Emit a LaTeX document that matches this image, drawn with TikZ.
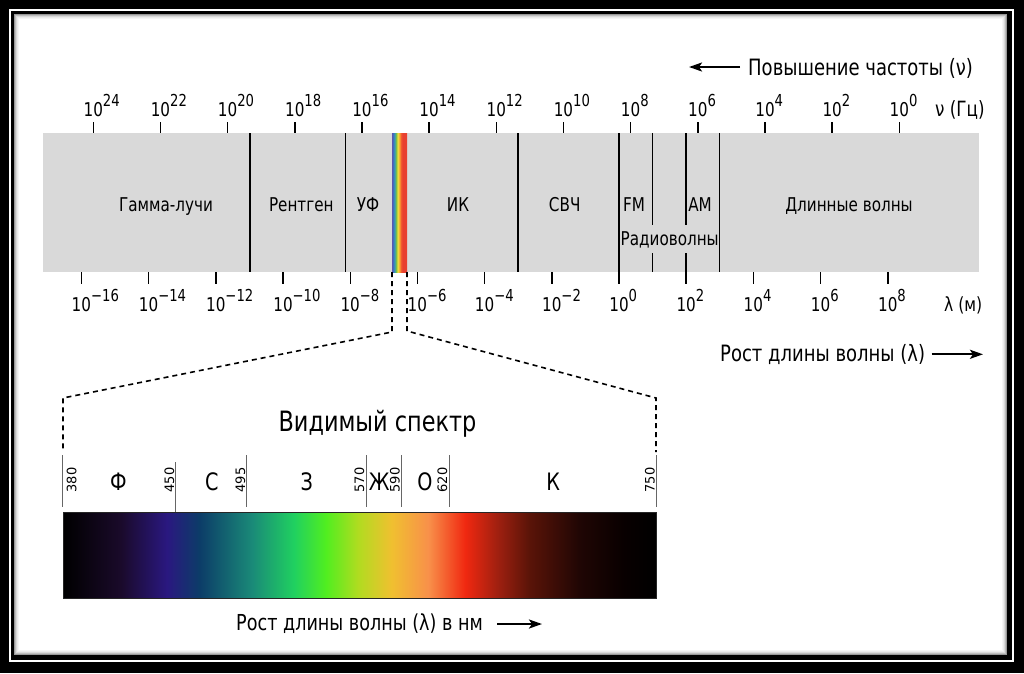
\documentclass[tikz,border=0pt]{standalone}
\usepackage{fontspec}
\setmainfont{DejaVu Sans}[FakeStretch=0.8]
\newfontfamily\numfont{DejaVu Sans}
\usetikzlibrary{arrows.meta}
\definecolor{barfill}{RGB}{217,217,217}
\definecolor{vs1}{HTML}{1A0A2A}
\definecolor{vs2}{HTML}{2A1880}
\definecolor{vs3}{HTML}{0C3C68}
\definecolor{vs4}{HTML}{1A8A78}
\definecolor{vs5}{HTML}{20D060}
\definecolor{vs6}{HTML}{50EE20}
\definecolor{vs7}{HTML}{B0DC20}
\definecolor{vs8}{HTML}{F0C030}
\definecolor{vs9}{HTML}{F8904A}
\definecolor{vs10}{HTML}{F02810}
\definecolor{vs11}{HTML}{A02010}
\definecolor{vs12}{HTML}{5A1408}
\definecolor{vs13}{HTML}{200604}
\definecolor{vs14}{HTML}{080000}
\definecolor{rb1}{HTML}{5A58B0}
\definecolor{rb2}{HTML}{4070C0}
\definecolor{rb3}{HTML}{38A0B0}
\definecolor{rb4}{HTML}{80C040}
\definecolor{rb5}{HTML}{F0E040}
\definecolor{rb6}{HTML}{F8A030}
\definecolor{rb7}{HTML}{F05A30}
\definecolor{rb8}{HTML}{E84030}
\pgfdeclarehorizontalshading{visspec}{100bp}{color(0bp)=(black); color(25bp)=(black); color(29.86bp)=(vs1); color(33.78bp)=(vs2); color(36.49bp)=(vs3); color(40.95bp)=(vs4); color(44.46bp)=(vs5); color(47.16bp)=(vs6); color(49.86bp)=(vs7); color(52.7bp)=(vs8); color(55.81bp)=(vs9); color(58.92bp)=(vs10); color(61.62bp)=(vs11); color(64.32bp)=(vs12); color(68.51bp)=(vs13); color(72.3bp)=(vs14); color(75bp)=(black); color(100bp)=(black)}
\pgfdeclarehorizontalshading{rainbowstrip}{100bp}{color(0bp)=(rb1); color(25bp)=(rb1); color(29bp)=(rb2); color(34bp)=(rb3); color(39bp)=(rb4); color(44bp)=(rb5); color(50bp)=(rb6); color(55bp)=(rb7); color(60bp)=(rb8); color(75bp)=(rb8); color(100bp)=(rb8)}
\newcommand\tpow[1]{10\rlap{\raisebox{10.5pt}{\fontsize{16.5}{16.5}\selectfont #1}}}
\begin{document}
\begin{tikzpicture}[x=1pt,y=-1pt,
  tickline/.style={line width=1.4pt},
  band/.style={line width=1.6pt},
  dsh/.style={line width=1.6pt, dash pattern=on 5pt off 4pt},
  vtick/.style={line width=1pt, draw=black!60},
  tlbl/.style={font=\fontsize{19}{22}\selectfont, inner sep=0, anchor=base},
  blbl/.style={font=\fontsize{19}{22}\selectfont, inner sep=0, anchor=base},
  bigl/.style={font=\fontsize{22.5}{26}\selectfont, inner sep=0, anchor=base west},
  vnum/.style={font=\numfont\fontsize{13}{13}\selectfont, rotate=90, inner sep=0},
  cletter/.style={font=\fontsize{24}{26}\selectfont, inner sep=0, anchor=base},
  arr/.style={line width=2.2pt, -{Stealth[length=13pt,width=9pt,inset=3pt]}}]
\useasboundingbox (0,0) rectangle (1024,673);
% frame
\fill[black] (0,0) rectangle (1024,673);
\fill[white] (9,9) rectangle (1013.5,661.5);
\fill[black] (11,11) rectangle (1011.5,659.5);
\fill[white] (14,14) rectangle (1007,654.5);
\foreach \i/\o in {0/0.4,1/0.26,2/0.15,3/0.08,4/0.04}
  \draw[black, opacity=\o, line width=1pt] (14.5+\i,14.5+\i) rectangle (1006.5-\i,654-\i);
% main bar
\fill[barfill] (43,133) rectangle (979,272);
\shade[shading=rainbowstrip] (392,133) rectangle (407,272);
% top ticks
\foreach \e [count=\i] in {24,22,...,0}{
  \pgfmathsetmacro\xx{93.3+(24-\e)*33.585}
  \draw[tickline] (\xx,122) -- (\xx,133);
  \node[tlbl] (f\i) at (\xx,116.5) {\tpow{\e}};
}
% bottom ticks
\foreach \e [count=\i] in {-16,-14,...,8}{
  \pgfmathsetmacro\xx{619+\e*33.6}
  \draw[tickline] (\xx,272) -- (\xx,284);
  \node[blbl] (w\i) at (\xx,311.7) {\tpow{\ifnum\e<0 −\the\numexpr0-(\e)\relax\else\e\fi}};
}
% band dividers
\foreach \xx in {249.7,345.3,517.7,719.3} \draw[band] (\xx,133) -- (\xx,272);
\draw[band] (619,133) -- (619,284);
\draw[band] (652.3,133) -- (652.3,225) (652.3,253) -- (652.3,272);
\draw[band] (685.7,133) -- (685.7,225) (685.7,253) -- (685.7,284);
% band labels
\node[blbl] (gamma) at (166,211) {Гамма-лучи};
\node[blbl] (xray) at (301.3,211) {Рентген};
\node[blbl] (uv) at (368,211) {УФ};
\node[blbl] (ir) at (458,211) {ИК};
\node[blbl] (mw) at (564.7,211) {СВЧ};
\node[blbl] (fm) at (634,211) {FM};
\node[blbl] (am) at (700,211) {AM};
\node[blbl] (lw) at (849,211) {Длинные волны};
\node[blbl] (radio) at (669.7,245) {Радиоволны};
% axis titles
\node[bigl] (freqtitle) at (748,75) {Повышение частоты (ν)};
\coordinate (fa1) at (740,67);
\coordinate (fa2) at (689,67);
\draw[arr] (fa1) -- (fa2);
\node[font=\fontsize{21}{24}\selectfont, inner sep=0, anchor=base west] (nu) at (935,116) {ν (Гц)};
\node[font=\fontsize{19.5}{22}\selectfont, inner sep=0, anchor=base west] (lam) at (944,311.7) {λ (м)};
\node[bigl] (wltitle) at (720,361.7) {Рост длины волны (λ)};
\coordinate (wa1) at (931.7,354.3);
\coordinate (wa2) at (983,354.3);
\draw[arr] (wa1) -- (wa2);
% dashed zoom lines
\draw[dsh] (392,272) -- (392,332) -- (63,398) -- (63,452);
\draw[dsh] (407,272) -- (407,331) -- (656,398) -- (656,452);
% visible spectrum
\node[font=\fontsize{28}{32}\selectfont, inner sep=0, anchor=base] (vis) at (377.5,431.7) {Видимый спектр};
\foreach \xx in {62.7,246.7,366,401,449,656} \draw[vtick] (\xx,455) -- (\xx,507);
\draw[vtick] (175.5,462) -- (175.5,512);
\node[vnum] (n380) at (71.7,480) {380};
\node[vnum] (n450) at (169.5,480) {450};
\node[vnum] (n495) at (240.5,480) {495};
\node[vnum] (n570) at (359.5,480) {570};
\node[vnum] (n590) at (395,480) {590};
\node[vnum] (n620) at (442.5,480) {620};
\node[vnum] (n750) at (650,480) {750};
\node[cletter] (cF) at (118.3,490) {Ф};
\node[cletter] (cS) at (211.7,490) {С};
\node[cletter] (cZ) at (306.7,490) {З};
\node[cletter] (cZh) at (379.3,490) {Ж};
\node[cletter] (cO) at (425,490) {О};
\node[cletter] (cK) at (553.3,490) {К};
\shade[shading=visspec] (63,512) rectangle (656,598);
\draw[line width=0.8pt, black!85] (63,512) rectangle (656,598);
\node[font=\fontsize{22}{26}\selectfont, inner sep=0, anchor=base west] (nmtitle) at (236,630) {Рост длины волны (λ) в нм};
\coordinate (na1) at (497,624);
\coordinate (na2) at (542,624);
\draw[arr] (na1) -- (na2);
\end{tikzpicture}
\end{document}
